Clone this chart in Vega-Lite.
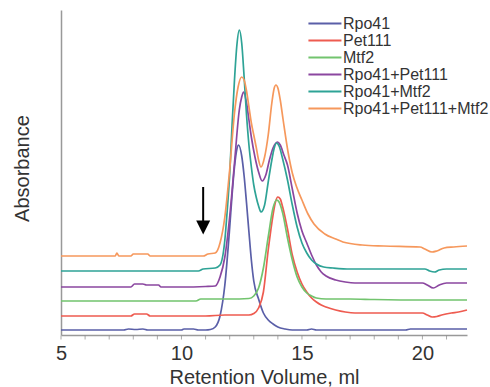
{
  "$schema": "https://vega.github.io/schema/vega-lite/v6.json",
  "width": 406,
  "height": 325,
  "autosize": {"type": "none"},
  "padding": {"left": 61, "top": 10, "right": 23, "bottom": 52},
  "background": "white",
  "config": {"view": {"stroke": null}, "font": "Liberation Sans"},
  "datasets": {
    "arrow": [{"ml": 10.9, "top": 148, "bottom": 114, "head": 107.5}],
    "ticks": [{"ml":5},{"ml":6},{"ml":7},{"ml":8},{"ml":9},{"ml":10},{"ml":11},{"ml":12},{"ml":13},{"ml":14},{"ml":15},{"ml":16},{"ml":17},{"ml":18},{"ml":19},{"ml":20},{"ml":21}],
    "traces": [
      {"sample":"Rpo41","ml":5,"abs":5},{"sample":"Rpo41","ml":6,"abs":5},{"sample":"Rpo41","ml":7,"abs":5},{"sample":"Rpo41","ml":7.6,"abs":5},{"sample":"Rpo41","ml":7.8,"abs":6},{"sample":"Rpo41","ml":8.1,"abs":5.5},{"sample":"Rpo41","ml":8.4,"abs":6},{"sample":"Rpo41","ml":8.6,"abs":5},{"sample":"Rpo41","ml":9,"abs":5},{"sample":"Rpo41","ml":10,"abs":5},{"sample":"Rpo41","ml":10.1,"abs":6},{"sample":"Rpo41","ml":10.5,"abs":6},{"sample":"Rpo41","ml":10.7,"abs":5},{"sample":"Rpo41","ml":11,"abs":5},{"sample":"Rpo41","ml":11.2,"abs":5.5},{"sample":"Rpo41","ml":11.4,"abs":8},{"sample":"Rpo41","ml":11.6,"abs":19},{"sample":"Rpo41","ml":11.8,"abs":50},{"sample":"Rpo41","ml":12.0,"abs":107},{"sample":"Rpo41","ml":12.1,"abs":140},{"sample":"Rpo41","ml":12.2,"abs":168},{"sample":"Rpo41","ml":12.3,"abs":186},{"sample":"Rpo41","ml":12.37,"abs":190},{"sample":"Rpo41","ml":12.5,"abs":179},{"sample":"Rpo41","ml":12.6,"abs":159},{"sample":"Rpo41","ml":12.7,"abs":132},{"sample":"Rpo41","ml":12.8,"abs":103},{"sample":"Rpo41","ml":12.9,"abs":75},{"sample":"Rpo41","ml":13.0,"abs":54},{"sample":"Rpo41","ml":13.2,"abs":36},{"sample":"Rpo41","ml":13.4,"abs":22},{"sample":"Rpo41","ml":13.6,"abs":15},{"sample":"Rpo41","ml":13.8,"abs":11},{"sample":"Rpo41","ml":14.0,"abs":8},{"sample":"Rpo41","ml":14.3,"abs":6},{"sample":"Rpo41","ml":14.6,"abs":5},{"sample":"Rpo41","ml":15.2,"abs":5},{"sample":"Rpo41","ml":15.4,"abs":6},{"sample":"Rpo41","ml":15.6,"abs":5},{"sample":"Rpo41","ml":17,"abs":5},{"sample":"Rpo41","ml":19.3,"abs":5},{"sample":"Rpo41","ml":19.5,"abs":6},{"sample":"Rpo41","ml":21,"abs":6},{"sample":"Rpo41","ml":21.85,"abs":6},
      {"sample":"Pet111","ml":5,"abs":19},{"sample":"Pet111","ml":7,"abs":19},{"sample":"Pet111","ml":7.9,"abs":19},{"sample":"Pet111","ml":8.05,"abs":21},{"sample":"Pet111","ml":8.55,"abs":21},{"sample":"Pet111","ml":8.7,"abs":19},{"sample":"Pet111","ml":9,"abs":19},{"sample":"Pet111","ml":10,"abs":19},{"sample":"Pet111","ml":11,"abs":19},{"sample":"Pet111","ml":11.8,"abs":20},{"sample":"Pet111","ml":12.8,"abs":20},{"sample":"Pet111","ml":13.0,"abs":21.5},{"sample":"Pet111","ml":13.2,"abs":27},{"sample":"Pet111","ml":13.4,"abs":43},{"sample":"Pet111","ml":13.6,"abs":85},{"sample":"Pet111","ml":13.8,"abs":120},{"sample":"Pet111","ml":13.9,"abs":133},{"sample":"Pet111","ml":14.0,"abs":138},{"sample":"Pet111","ml":14.1,"abs":136},{"sample":"Pet111","ml":14.2,"abs":128},{"sample":"Pet111","ml":14.4,"abs":106},{"sample":"Pet111","ml":14.6,"abs":80},{"sample":"Pet111","ml":14.8,"abs":63},{"sample":"Pet111","ml":15.0,"abs":51},{"sample":"Pet111","ml":15.2,"abs":43},{"sample":"Pet111","ml":15.4,"abs":37},{"sample":"Pet111","ml":15.6,"abs":33},{"sample":"Pet111","ml":15.8,"abs":30},{"sample":"Pet111","ml":16.0,"abs":28},{"sample":"Pet111","ml":16.4,"abs":25},{"sample":"Pet111","ml":16.8,"abs":23},{"sample":"Pet111","ml":17.2,"abs":22},{"sample":"Pet111","ml":18,"abs":22},{"sample":"Pet111","ml":19,"abs":22},{"sample":"Pet111","ml":20.0,"abs":22},{"sample":"Pet111","ml":20.2,"abs":20},{"sample":"Pet111","ml":20.4,"abs":18},{"sample":"Pet111","ml":20.6,"abs":18.5},{"sample":"Pet111","ml":20.8,"abs":20},{"sample":"Pet111","ml":21.2,"abs":22},{"sample":"Pet111","ml":21.5,"abs":23},{"sample":"Pet111","ml":21.85,"abs":25},
      {"sample":"Mtf2","ml":5,"abs":34},{"sample":"Mtf2","ml":7,"abs":34},{"sample":"Mtf2","ml":9,"abs":34},{"sample":"Mtf2","ml":10.6,"abs":34},{"sample":"Mtf2","ml":10.8,"abs":36},{"sample":"Mtf2","ml":12,"abs":36},{"sample":"Mtf2","ml":12.8,"abs":36.5},{"sample":"Mtf2","ml":13.0,"abs":39},{"sample":"Mtf2","ml":13.2,"abs":47},{"sample":"Mtf2","ml":13.4,"abs":67},{"sample":"Mtf2","ml":13.6,"abs":98},{"sample":"Mtf2","ml":13.8,"abs":127},{"sample":"Mtf2","ml":13.95,"abs":135},{"sample":"Mtf2","ml":14.05,"abs":133},{"sample":"Mtf2","ml":14.2,"abs":122},{"sample":"Mtf2","ml":14.4,"abs":97},{"sample":"Mtf2","ml":14.6,"abs":75},{"sample":"Mtf2","ml":14.8,"abs":58},{"sample":"Mtf2","ml":15.0,"abs":48},{"sample":"Mtf2","ml":15.2,"abs":42},{"sample":"Mtf2","ml":15.4,"abs":39},{"sample":"Mtf2","ml":15.6,"abs":37},{"sample":"Mtf2","ml":16.0,"abs":36},{"sample":"Mtf2","ml":17,"abs":36},{"sample":"Mtf2","ml":18,"abs":35.5},{"sample":"Mtf2","ml":20,"abs":35},{"sample":"Mtf2","ml":21.85,"abs":35},
      {"sample":"Rpo41+Pet111","ml":5,"abs":48},{"sample":"Rpo41+Pet111","ml":7,"abs":48},{"sample":"Rpo41+Pet111","ml":7.9,"abs":48},{"sample":"Rpo41+Pet111","ml":8.05,"abs":51},{"sample":"Rpo41+Pet111","ml":8.4,"abs":51},{"sample":"Rpo41+Pet111","ml":8.55,"abs":50},{"sample":"Rpo41+Pet111","ml":9.05,"abs":50},{"sample":"Rpo41+Pet111","ml":9.15,"abs":48},{"sample":"Rpo41+Pet111","ml":10,"abs":48},{"sample":"Rpo41+Pet111","ml":11,"abs":48.5},{"sample":"Rpo41+Pet111","ml":11.4,"abs":49},{"sample":"Rpo41+Pet111","ml":11.6,"abs":58},{"sample":"Rpo41+Pet111","ml":11.8,"abs":78},{"sample":"Rpo41+Pet111","ml":12.0,"abs":118},{"sample":"Rpo41+Pet111","ml":12.2,"abs":172},{"sample":"Rpo41+Pet111","ml":12.4,"abs":225},{"sample":"Rpo41+Pet111","ml":12.5,"abs":238},{"sample":"Rpo41+Pet111","ml":12.58,"abs":243},{"sample":"Rpo41+Pet111","ml":12.7,"abs":232},{"sample":"Rpo41+Pet111","ml":12.8,"abs":215},{"sample":"Rpo41+Pet111","ml":12.9,"abs":198},{"sample":"Rpo41+Pet111","ml":13.05,"abs":178},{"sample":"Rpo41+Pet111","ml":13.2,"abs":163},{"sample":"Rpo41+Pet111","ml":13.35,"abs":154},{"sample":"Rpo41+Pet111","ml":13.5,"abs":160},{"sample":"Rpo41+Pet111","ml":13.65,"abs":175},{"sample":"Rpo41+Pet111","ml":13.8,"abs":187},{"sample":"Rpo41+Pet111","ml":13.98,"abs":193},{"sample":"Rpo41+Pet111","ml":14.1,"abs":190},{"sample":"Rpo41+Pet111","ml":14.25,"abs":180},{"sample":"Rpo41+Pet111","ml":14.4,"abs":170},{"sample":"Rpo41+Pet111","ml":14.6,"abs":146},{"sample":"Rpo41+Pet111","ml":14.8,"abs":122},{"sample":"Rpo41+Pet111","ml":15.0,"abs":104},{"sample":"Rpo41+Pet111","ml":15.2,"abs":92},{"sample":"Rpo41+Pet111","ml":15.4,"abs":80},{"sample":"Rpo41+Pet111","ml":15.6,"abs":70},{"sample":"Rpo41+Pet111","ml":15.8,"abs":63},{"sample":"Rpo41+Pet111","ml":16.0,"abs":59},{"sample":"Rpo41+Pet111","ml":16.4,"abs":55},{"sample":"Rpo41+Pet111","ml":16.8,"abs":53},{"sample":"Rpo41+Pet111","ml":17.2,"abs":52},{"sample":"Rpo41+Pet111","ml":18,"abs":52},{"sample":"Rpo41+Pet111","ml":20.0,"abs":52},{"sample":"Rpo41+Pet111","ml":20.2,"abs":50},{"sample":"Rpo41+Pet111","ml":20.45,"abs":47},{"sample":"Rpo41+Pet111","ml":20.7,"abs":50},{"sample":"Rpo41+Pet111","ml":21.0,"abs":52},{"sample":"Rpo41+Pet111","ml":21.85,"abs":52},
      {"sample":"Rpo41+Mtf2","ml":5,"abs":64},{"sample":"Rpo41+Mtf2","ml":8,"abs":64},{"sample":"Rpo41+Mtf2","ml":10,"abs":64},{"sample":"Rpo41+Mtf2","ml":10.7,"abs":64},{"sample":"Rpo41+Mtf2","ml":10.9,"abs":66},{"sample":"Rpo41+Mtf2","ml":11.4,"abs":67},{"sample":"Rpo41+Mtf2","ml":11.6,"abs":70},{"sample":"Rpo41+Mtf2","ml":11.8,"abs":95},{"sample":"Rpo41+Mtf2","ml":11.9,"abs":125},{"sample":"Rpo41+Mtf2","ml":12.0,"abs":160},{"sample":"Rpo41+Mtf2","ml":12.1,"abs":210},{"sample":"Rpo41+Mtf2","ml":12.2,"abs":255},{"sample":"Rpo41+Mtf2","ml":12.3,"abs":290},{"sample":"Rpo41+Mtf2","ml":12.4,"abs":305},{"sample":"Rpo41+Mtf2","ml":12.5,"abs":292},{"sample":"Rpo41+Mtf2","ml":12.6,"abs":258},{"sample":"Rpo41+Mtf2","ml":12.7,"abs":220},{"sample":"Rpo41+Mtf2","ml":12.8,"abs":190},{"sample":"Rpo41+Mtf2","ml":12.9,"abs":168},{"sample":"Rpo41+Mtf2","ml":13.0,"abs":150},{"sample":"Rpo41+Mtf2","ml":13.1,"abs":138},{"sample":"Rpo41+Mtf2","ml":13.2,"abs":129},{"sample":"Rpo41+Mtf2","ml":13.3,"abs":123},{"sample":"Rpo41+Mtf2","ml":13.45,"abs":130},{"sample":"Rpo41+Mtf2","ml":13.6,"abs":153},{"sample":"Rpo41+Mtf2","ml":13.75,"abs":175},{"sample":"Rpo41+Mtf2","ml":13.85,"abs":187},{"sample":"Rpo41+Mtf2","ml":13.95,"abs":192},{"sample":"Rpo41+Mtf2","ml":14.05,"abs":189},{"sample":"Rpo41+Mtf2","ml":14.2,"abs":176},{"sample":"Rpo41+Mtf2","ml":14.4,"abs":155},{"sample":"Rpo41+Mtf2","ml":14.6,"abs":130},{"sample":"Rpo41+Mtf2","ml":14.8,"abs":108},{"sample":"Rpo41+Mtf2","ml":15.0,"abs":92},{"sample":"Rpo41+Mtf2","ml":15.2,"abs":82},{"sample":"Rpo41+Mtf2","ml":15.4,"abs":75},{"sample":"Rpo41+Mtf2","ml":15.6,"abs":71},{"sample":"Rpo41+Mtf2","ml":15.9,"abs":68},{"sample":"Rpo41+Mtf2","ml":16.3,"abs":67},{"sample":"Rpo41+Mtf2","ml":17,"abs":66},{"sample":"Rpo41+Mtf2","ml":20.1,"abs":66},{"sample":"Rpo41+Mtf2","ml":20.3,"abs":64},{"sample":"Rpo41+Mtf2","ml":20.5,"abs":63},{"sample":"Rpo41+Mtf2","ml":20.7,"abs":65},{"sample":"Rpo41+Mtf2","ml":21.0,"abs":66},{"sample":"Rpo41+Mtf2","ml":21.85,"abs":66},
      {"sample":"Rpo41+Pet111+Mtf2","ml":5,"abs":79},{"sample":"Rpo41+Pet111+Mtf2","ml":7,"abs":79},{"sample":"Rpo41+Pet111+Mtf2","ml":7.25,"abs":79},{"sample":"Rpo41+Pet111+Mtf2","ml":7.32,"abs":82},{"sample":"Rpo41+Pet111+Mtf2","ml":7.4,"abs":79},{"sample":"Rpo41+Pet111+Mtf2","ml":7.9,"abs":79},{"sample":"Rpo41+Pet111+Mtf2","ml":8.0,"abs":81},{"sample":"Rpo41+Pet111+Mtf2","ml":8.6,"abs":81},{"sample":"Rpo41+Pet111+Mtf2","ml":8.7,"abs":79},{"sample":"Rpo41+Pet111+Mtf2","ml":10,"abs":79},{"sample":"Rpo41+Pet111+Mtf2","ml":10.9,"abs":79},{"sample":"Rpo41+Pet111+Mtf2","ml":11.1,"abs":81},{"sample":"Rpo41+Pet111+Mtf2","ml":11.4,"abs":82},{"sample":"Rpo41+Pet111+Mtf2","ml":11.6,"abs":92},{"sample":"Rpo41+Pet111+Mtf2","ml":11.8,"abs":118},{"sample":"Rpo41+Pet111+Mtf2","ml":12.0,"abs":165},{"sample":"Rpo41+Pet111+Mtf2","ml":12.2,"abs":222},{"sample":"Rpo41+Pet111+Mtf2","ml":12.35,"abs":248},{"sample":"Rpo41+Pet111+Mtf2","ml":12.5,"abs":258},{"sample":"Rpo41+Pet111+Mtf2","ml":12.6,"abs":255},{"sample":"Rpo41+Pet111+Mtf2","ml":12.7,"abs":244},{"sample":"Rpo41+Pet111+Mtf2","ml":12.8,"abs":228},{"sample":"Rpo41+Pet111+Mtf2","ml":12.9,"abs":212},{"sample":"Rpo41+Pet111+Mtf2","ml":13.0,"abs":200},{"sample":"Rpo41+Pet111+Mtf2","ml":13.1,"abs":188},{"sample":"Rpo41+Pet111+Mtf2","ml":13.2,"abs":175},{"sample":"Rpo41+Pet111+Mtf2","ml":13.3,"abs":168},{"sample":"Rpo41+Pet111+Mtf2","ml":13.45,"abs":178},{"sample":"Rpo41+Pet111+Mtf2","ml":13.6,"abs":200},{"sample":"Rpo41+Pet111+Mtf2","ml":13.75,"abs":232},{"sample":"Rpo41+Pet111+Mtf2","ml":13.85,"abs":247},{"sample":"Rpo41+Pet111+Mtf2","ml":13.92,"abs":250},{"sample":"Rpo41+Pet111+Mtf2","ml":14.0,"abs":247},{"sample":"Rpo41+Pet111+Mtf2","ml":14.1,"abs":235},{"sample":"Rpo41+Pet111+Mtf2","ml":14.22,"abs":215},{"sample":"Rpo41+Pet111+Mtf2","ml":14.43,"abs":182},{"sample":"Rpo41+Pet111+Mtf2","ml":14.6,"abs":162},{"sample":"Rpo41+Pet111+Mtf2","ml":14.78,"abs":148},{"sample":"Rpo41+Pet111+Mtf2","ml":15.0,"abs":135},{"sample":"Rpo41+Pet111+Mtf2","ml":15.25,"abs":121},{"sample":"Rpo41+Pet111+Mtf2","ml":15.5,"abs":111},{"sample":"Rpo41+Pet111+Mtf2","ml":15.95,"abs":101},{"sample":"Rpo41+Pet111+Mtf2","ml":16.4,"abs":96},{"sample":"Rpo41+Pet111+Mtf2","ml":16.7,"abs":93},{"sample":"Rpo41+Pet111+Mtf2","ml":17.5,"abs":90},{"sample":"Rpo41+Pet111+Mtf2","ml":18.4,"abs":89},{"sample":"Rpo41+Pet111+Mtf2","ml":19.9,"abs":88},{"sample":"Rpo41+Pet111+Mtf2","ml":20.1,"abs":86},{"sample":"Rpo41+Pet111+Mtf2","ml":20.4,"abs":83},{"sample":"Rpo41+Pet111+Mtf2","ml":20.6,"abs":84},{"sample":"Rpo41+Pet111+Mtf2","ml":20.9,"abs":87},{"sample":"Rpo41+Pet111+Mtf2","ml":21.3,"abs":88},{"sample":"Rpo41+Pet111+Mtf2","ml":21.85,"abs":89}
    ]
  },
  "layer": [
    {
      "data": {"name": "traces"},
      "mark": {"type": "line", "strokeWidth": 1.7, "interpolate": "monotone"},
      "encoding": {
        "x": {
          "field": "ml", "type": "quantitative",
          "scale": {"domain": [5, 21.85], "nice": false, "zero": false},
          "axis": {
            "values": [5, 10, 15, 20],
            "labelFlush": false, "labelOverlap": false,
            "grid": false, "ticks": false, "domainColor": "#999", "domainWidth": 1.5,
            "labelFontSize": 20, "labelColor": "#333", "labelPadding": 8,
            "title": "Retention Volume, ml", "titleFontSize": 20, "titleFontWeight": "normal", "titleColor": "#333",
            "titleBaseline": "alphabetic", "titleY": 48
          }
        },
        "y": {
          "field": "abs", "type": "quantitative",
          "scale": {"domain": [0, 325], "nice": false},
          "axis": {
            "ticks": false, "labels": false, "grid": false, "domainColor": "#999", "domainWidth": 1.5,
            "title": "Absorbance", "titleFontSize": 20, "titleFontWeight": "normal", "titleColor": "#333",
            "titleX": -33, "titleY": 158, "titleBaseline": "alphabetic", "titleAlign": "center", "titleAngle": -90
          }
        },
        "color": {
          "field": "sample", "type": "nominal",
          "scale": {
            "domain": ["Rpo41", "Pet111", "Mtf2", "Rpo41+Pet111", "Rpo41+Mtf2", "Rpo41+Pet111+Mtf2"],
            "range": ["#5a5fa8", "#ee5b50", "#72c46e", "#8b47a0", "#2ea396", "#f6985c"]
          },
          "legend": {
            "orient": "none", "legendX": 246, "legendY": 5, "title": null,
            "symbolType": "M-1,0L3.67,0", "symbolSize": 200, "symbolStrokeWidth": 2,
            "labelFontSize": 16, "labelColor": "#333", "labelOffset": 19, "rowPadding": 0, "padding": 0
          }
        }
      }
    },
    {
      "data": {"name": "ticks"},
      "mark": {"type": "tick", "orient": "vertical", "size": 4, "thickness": 1, "color": "#888", "yOffset": 2.5},
      "encoding": {
        "x": {"field": "ml", "type": "quantitative"},
        "y": {"datum": 0, "type": "quantitative"}
      }
    },
    {
      "data": {"name": "arrow"},
      "mark": {"type": "rule", "color": "black", "strokeWidth": 2},
      "encoding": {
        "x": {"field": "ml", "type": "quantitative"},
        "y": {"field": "top", "type": "quantitative"},
        "y2": {"field": "bottom"}
      }
    },
    {
      "data": {"name": "arrow"},
      "mark": {"type": "point", "shape": "M-1,-1L1,-1L0,1Z", "filled": true, "color": "black", "size": 196, "opacity": 1},
      "encoding": {
        "x": {"field": "ml", "type": "quantitative"},
        "y": {"field": "head", "type": "quantitative"}
      }
    }
  ]
}
